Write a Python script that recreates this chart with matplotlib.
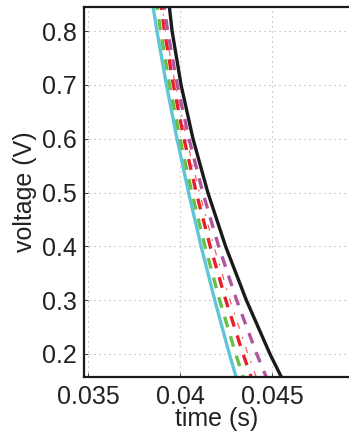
import matplotlib
matplotlib.use("Agg")
import matplotlib.pyplot as plt

plt.rcParams["font.family"] = ["Liberation Sans", "DejaVu Sans"]

# voltage levels (V) at which the crossing times were read
voltage = [0.9, 0.8, 0.7, 0.6, 0.5, 0.4, 0.3, 0.2, 0.1]

# crossing times (s) per trace
t_cyan = [0.038286, 0.038747, 0.039264, 0.039837, 0.040465,
          0.041149, 0.041889, 0.042684, 0.043535]
t_green = [0.038533, 0.038945, 0.039434, 0.040000, 0.040642,
           0.041360, 0.042155, 0.043027, 0.043974]
t_red = [0.038762, 0.039157, 0.039641, 0.040217, 0.040884,
         0.041641, 0.042489, 0.043427, 0.044457]
t_thin = [0.038797, 0.039226, 0.039745, 0.040353, 0.041052,
          0.041841, 0.042720, 0.043689, 0.044747]
t_magenta = [0.038920, 0.039329, 0.039852, 0.040489, 0.041239,
             0.042103, 0.043080, 0.044171, 0.045375]
t_black = [0.039242, 0.039571, 0.040059, 0.040707, 0.041514,
           0.042479, 0.043605, 0.044889, 0.046333]

xticks = [0.035, 0.04, 0.045]
xtick_labels = ["0.035", "0.04", "0.045"]
yticks = [0.2, 0.3, 0.4, 0.5, 0.6, 0.7, 0.8]

fig = plt.figure(figsize=(3.49, 4.38), dpi=100)
ax = fig.add_axes([0.2407, 0.1393, 0.7593, 0.8447])

ax.plot(t_cyan, voltage, color="#5ec6d6", lw=2.4)
ax.plot(t_green, voltage, color="#6abd45", lw=2.4, dashes=(3.3, 2.8))
ax.plot(t_red, voltage, color="#e8202a", lw=2.4, dashes=(3.3, 2.8))
ax.plot(t_thin, voltage, color="#f0606a", lw=0.9, dashes=(5, 7, 1.5, 7))
ax.plot(t_magenta, voltage, color="#b0559e", lw=2.4, dashes=(3.3, 2.8))
ax.plot(t_black, voltage, color="#1a1a1a", lw=2.4)

ax.set_xlim(0.03478, 0.04919)
ax.set_ylim(0.157, 0.845)
ax.set_xticks(xticks)
ax.set_xticklabels(xtick_labels)
ax.set_yticks(yticks)

ax.tick_params(direction="in", length=3, width=0.6, labelsize=18, colors="#222222")
ax.tick_params(axis="x", pad=6)
ax.tick_params(axis="y", pad=5)
ax.grid(True, linestyle=(0, (1, 3.5)), color="#aaaaaa", linewidth=0.8)

ax.spines["right"].set_visible(False)
for side in ["left", "top", "bottom"]:
    ax.spines[side].set_linewidth(1.6)
    ax.spines[side].set_color("#1a1a1a")

ax.set_xlabel("time (s)", fontsize=18, labelpad=-2, color="#222222")
ax.set_ylabel("voltage (V)", fontsize=18, labelpad=4, color="#222222")

fig.savefig("out.png", dpi=100)
plt.close(fig)
